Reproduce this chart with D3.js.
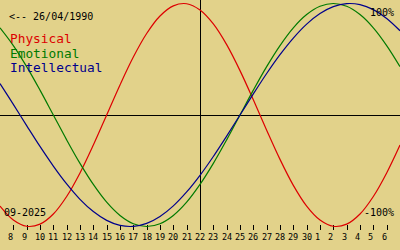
<!DOCTYPE html>
<html>
<head>
<meta charset="utf-8">
<script src="https://cdn.jsdelivr.net/npm/d3@7"></script>
<style>
  body { margin: 0; background: #e2d28a; }
  svg { display: block; }
  text { font-family: "DejaVu Sans Mono", "Liberation Mono", monospace; }
</style>
</head>
<body>
<div id="chart"></div>
<script>
// 数据：以 22/09 为 0 的日期偏移，以及三条曲线的百分比值
const days = d3.range(-15, 16)
const tickLabels = ['8','9','10','11','12','13','14','15','16','17','18','19','20','21','22',
  '23','24','25','26','27','28','29','30','1','2','3','4','5','6']
const physical = [-81.7,-94.2,-99.8,-97.9,-88.8,-73.1,-52.0,-27.0,0,27.0,52.0,73.1,88.8,97.9,99.8,
  94.2,81.7,63.1,39.8,13.6,-13.6,-39.8,-63.1,-81.7,-94.2,-99.8,-97.9,-88.8,-73.1,-52.0,-27.0]
const emotional = [78.2,62.3,43.4,22.3,0,-22.3,-43.4,-62.3,-78.2,-90.1,-97.5,-100,-97.5,-90.1,-78.2,
  -62.3,-43.4,-22.3,0,22.3,43.4,62.3,78.2,90.1,97.5,100,97.5,90.1,78.2,62.3,43.4]
const intellectual = [28.2,9.5,-9.5,-28.2,-45.8,-61.8,-75.6,-86.6,-94.5,-99.0,-99.9,-97.2,-91.0,-81.5,-69.0,
  -54.1,-37.2,-18.9,0,18.9,37.2,54.1,69.0,81.5,91.0,97.2,99.9,99.0,94.5,86.6,75.6]
const series = [
  {name: 'Physical', color: '#dd0000', values: physical},
  {name: 'Emotional', color: '#007a00', values: emotional},
  {name: 'Intellectual', color: '#00008c', values: intellectual}
]

const width = 400
const height = 250
const svg = d3.select('#chart').append('svg').attr('width', width).attr('height', height)
svg.append('rect').attr('width', width).attr('height', height).attr('fill', '#e2d28a')

const xScale = d3.scaleLinear().domain([-15, 15]).range([0, width])
const yScale = d3.scaleLinear().domain([-100, 100]).range([226.5, 3.5])

// 坐标轴
svg.append('line').attr('x1', 0).attr('x2', width)
  .attr('y1', Math.round(yScale(0)) + 0.5).attr('y2', Math.round(yScale(0)) + 0.5)
  .attr('stroke', 'black').attr('stroke-width', 1)
svg.append('line').attr('x1', xScale(0) + 0.5).attr('x2', xScale(0) + 0.5)
  .attr('y1', 0).attr('y2', 230).attr('stroke', 'black').attr('stroke-width', 1)

// 刻度
const tickDays = days.slice(1, -1)
tickDays.forEach((d, i) => {
  let x = Math.round(xScale(d)) + 0.5
  svg.append('line').attr('x1', x).attr('x2', x).attr('y1', 225).attr('y2', 230)
    .attr('stroke', 'black').attr('stroke-width', 1)
  svg.append('text').text(tickLabels[i]).attr('x', Math.round(xScale(d)) - 5).attr('y', 240)
    .attr('font-size', 8.5).attr('fill', 'black')
})

// 曲线
const line = d3.line().x((v, i) => xScale(days[i])).y(v => yScale(v)).curve(d3.curveCatmullRom)
for (let s of series) {
  svg.append('path').attr('d', line(s.values)).attr('fill', 'none')
    .attr('stroke', s.color).attr('stroke-width', 1.2)
}

// 文字
svg.append('text').text('<-- 26/04/1990').attr('x', 9).attr('y', 20).attr('font-size', 10).attr('fill', 'black')
series.forEach((s, i) => {
  svg.append('text').text(s.name).attr('x', 10).attr('y', 43 + i * 14.5)
    .attr('font-size', 12.8).attr('fill', s.color)
})
svg.append('text').text('100%').attr('x', 394).attr('y', 16).attr('text-anchor', 'end')
  .attr('font-size', 10).attr('fill', 'black')
svg.append('text').text('-100%').attr('x', 394).attr('y', 216).attr('text-anchor', 'end')
  .attr('font-size', 10).attr('fill', 'black')
svg.append('text').text('09-2025').attr('x', 4).attr('y', 216)
  .attr('font-size', 10).attr('fill', 'black')
</script>
</body>
</html>
